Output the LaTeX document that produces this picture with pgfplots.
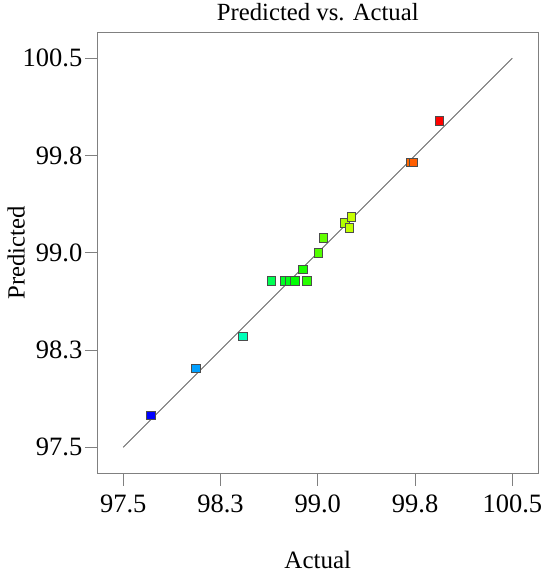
\documentclass[border=0pt]{standalone}
\usepackage{fontspec}
\setmainfont{Liberation Serif}
\usepackage{pgfplots}
\pgfplotsset{compat=1.18}
\definecolor{axgray}{RGB}{128,128,128}
\begin{document}
\begin{tikzpicture}
\useasboundingbox (-97.3pt,-103.7pt) rectangle (452.7pt,473.3pt);
\begin{axis}[
  scale only axis,
  width=441pt, height=441pt,
  xmin=97.3, xmax=100.7, ymin=97.3, ymax=100.7,
  xtick={97.5,98.25,99,99.75,100.5},
  ytick={97.5,98.25,99,99.75,100.5},
  xticklabels={\textrm{97.5},\textrm{98.3},\textrm{99.0},\textrm{99.8},\textrm{100.5}},
  yticklabels={\textrm{97.5},\textrm{98.3},\textrm{99.0},\textrm{99.8},\textrm{100.5}},
  /pgf/number format/assume math mode=true,
  tick align=outside,
  xtick pos=bottom, ytick pos=left,
  major tick length=12.5pt,
  axis line style={axgray, line width=0.9pt},
  every tick/.style={axgray, line width=0.9pt},
  tick label style={font=\rmfamily\fontsize{26.5}{30}\selectfont},
  xticklabel style={yshift=-6pt},
  yticklabel style={xshift=1pt},
  title style={font=\rmfamily\fontsize{24.7}{30}\selectfont, at={(axis description cs:0.5,1.0127)}, anchor=base},
  title={Predicted vs. Actual},
  xlabel={Actual},
  ylabel={Predicted},
  every axis x label/.style={at={(axis description cs:0.5,-0.1961)}, anchor=center, font=\rmfamily\fontsize{25}{30}\selectfont},
  every axis y label/.style={at={(axis description cs:-0.184,0.5)}, rotate=90, anchor=center, font=\rmfamily\fontsize{24.7}{30}\selectfont},
  colormap={dx}{rgb255(0)=(0,0,255); rgb255(1)=(0,255,255); rgb255(2)=(0,255,0); rgb255(3)=(255,255,0); rgb255(4)=(255,0,0)},
  point meta min=97.71, point meta max=99.94,
  clip=false,
]
\addplot[black!60, line width=0.9pt] coordinates {(97.5,97.5) (100.5,100.5)};
\addplot[scatter, only marks, point meta=x,
  mark=square*, mark size=4.3pt,
  scatter/use mapped color={draw=black!70, fill=mapped color},
  every mark/.append style={line width=0.8pt}]
coordinates {
(97.712,97.747)
(98.061,98.110)
(98.421,98.356)
(98.642,98.785)
(98.747,98.785)
(98.780,98.785)
(98.822,98.785)
(98.914,98.785)
(98.884,98.873)
(99.004,99.001)
(99.043,99.117)
(99.210,99.232)
(99.243,99.191)
(99.258,99.278)
(99.716,99.698)
(99.736,99.698)
(99.937,100.019)
};
\end{axis}
\end{tikzpicture}
\end{document}
